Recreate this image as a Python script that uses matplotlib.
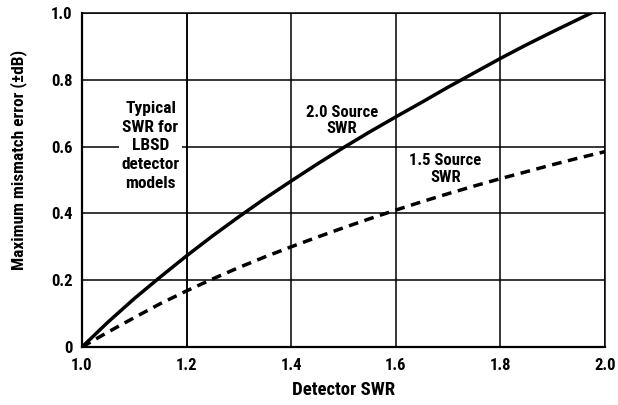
import matplotlib
matplotlib.use("Agg")
import matplotlib.pyplot as plt
from matplotlib import font_manager
from matplotlib.font_manager import FontProperties

# pick a condensed bold font if one is installed
cand = None
prefs = ["Liberation Sans Narrow", "Roboto Condensed", "Open Sans Condensed", "DejaVu Sans"]
for pref in prefs:
    for f in font_manager.fontManager.ttflist:
        fn = f.fname.lower()
        if f.name == pref and ('condensed' in fn or 'narrow' in fn) and ('bold' in fn) and ('oblique' not in fn) and ('italic' not in fn):
            cand = f.fname
            break
    if cand:
        break

def fp(size):
    if cand:
        return FontProperties(fname=cand, size=size)
    return FontProperties(family='DejaVu Sans', weight='bold', size=size)

# data
x_solid = [1.0, 1.05, 1.10, 1.15, 1.20, 1.25, 1.30, 1.35, 1.40, 1.45, 1.50, 1.55, 1.60,
           1.65, 1.70, 1.75, 1.80, 1.85, 1.90, 1.95, 2.0]
y_solid = [0.0, 0.075, 0.145, 0.21, 0.273, 0.333, 0.39, 0.445, 0.497, 0.548, 0.597, 0.644, 0.689,
           0.733, 0.778, 0.821, 0.864, 0.905, 0.944, 0.982, 1.02]
x_dash = [1.0, 1.05, 1.10, 1.15, 1.20, 1.25, 1.30, 1.35, 1.40, 1.45, 1.50, 1.55, 1.60,
          1.65, 1.70, 1.75, 1.80, 1.85, 1.90, 1.95, 2.0]
y_dash = [0.0, 0.045, 0.088, 0.13, 0.168, 0.204, 0.238, 0.27, 0.30, 0.329, 0.357, 0.384, 0.41,
          0.435, 0.459, 0.482, 0.504, 0.525, 0.546, 0.566, 0.585]
xticks = [1.0, 1.2, 1.4, 1.6, 1.8, 2.0]
xticklabels = ["1.0", "1.2", "1.4", "1.6", "1.8", "2.0"]
yticks = [0, 0.2, 0.4, 0.6, 0.8, 1.0]
yticklabels = ["0", "0.2", "0.4", "0.6", "0.8", "1.0"]

fig = plt.figure(figsize=(6.18, 4.05), dpi=100)
W, H = 618, 405
ax = fig.add_axes([82 / W, 1 - 347 / H, (605 - 82) / W, (347 - 13) / H])

ax.set_xlim(1.0, 2.0)
ax.set_ylim(0, 1.0)
ax.set_xticks(xticks)
ax.set_xticklabels(xticklabels, fontproperties=fp(12))
ax.set_yticks(yticks)
ax.set_yticklabels(yticklabels, fontproperties=fp(12))
ax.tick_params(axis='x', length=0, pad=8)
ax.tick_params(axis='y', length=0, pad=7)
ax.grid(True, color='black', linewidth=1.1, zorder=1)
ax.set_axisbelow(True)
for s in ax.spines.values():
    s.set_linewidth(1.1)
ax.spines['left'].set_linewidth(1.6)
ax.spines['bottom'].set_linewidth(1.6)

ax.plot(x_solid, y_solid, color='black', linewidth=2.5, zorder=4)
ax.plot(x_dash, y_dash, color='black', linewidth=2.5, linestyle=(0, (2.8, 1.9)), zorder=4)

ax.text(1.131, 0.602, "Typical\nSWR for\nLBSD\ndetector\nmodels", ha='center', va='center',
        fontproperties=fp(12.5), linespacing=1.3, zorder=2,
        bbox=dict(facecolor='white', edgecolor='none', pad=2))
# redraw the 1.2 gridline over the label box, as in the reference
ax.axvline(1.2, color='black', linewidth=1.1, zorder=3)
ax.text(1.497, 0.677, "2.0 Source\nSWR", ha='center', va='center',
        fontproperties=fp(12), linespacing=1.1, zorder=2)
ax.text(1.695, 0.533, "1.5 Source\nSWR", ha='center', va='center',
        fontproperties=fp(12), linespacing=1.1, zorder=2)

ax.set_xlabel("Detector SWR", fontproperties=fp(13.5), labelpad=6)
ax.set_ylabel("Maximum mismatch error (±dB)", fontproperties=fp(12.5))
ax.yaxis.set_label_coords(-0.106, 0.56)

fig.savefig("out.png", dpi=100)
